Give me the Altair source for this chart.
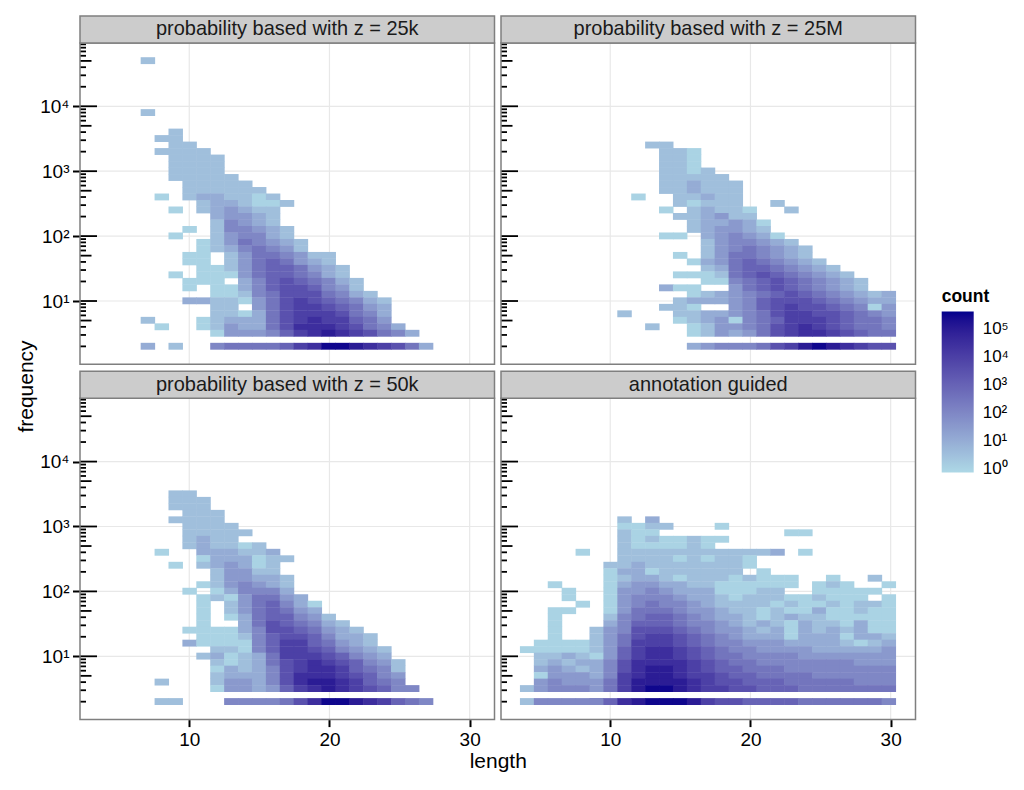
import altair as alt
import pandas as pd

# ---------------- data ----------------
PANEL_TITLES = [
    "probability based with z = 25k",
    "probability based with z = 25M",
    "probability based with z = 50k",
    "annotation guided",
]

# each row: (frequency bin index k, first length, levels for consecutive lengths)
# level char -> log10(count) = index/2 ; '.' = no cell
LEVEL_CHARS = "0123456789ab"

TL_ROWS = [
    (44, 7, "1"), (36, 7, "1"), (33, 9, "1"), (32, 8, "11"), (31, 9, "11"),
    (30, 8, "1111"), (29, 9, "1111"), (28, 9, "1111"), (27, 9, "1111"),
    (26, 9, "11111"), (25, 10, "11111"), (24, 10, "111111"),
    (23, 8, "0.1221101"), (22, 11, "1221001"), (21, 9, "0.123211"),
    (20, 12, "23321"), (19, 12, "14321"), (18, 10, "0.144321"),
    (17, 9, "0..134421"), (16, 11, "01354321"), (15, 11, "01245431"),
    (14, 10, "00.13554311"), (13, 10, "00.13565321"), (12, 11, "00135665321"),
    (11, 9, "0.00035665421"), (10, 10, "000.246765421"), (9, 10, "0.00246776431"),
    (8, 12, "001457775421"), (7, 10, "221103578765421"), (6, 12, "11.3578876532"),
    (5, 12, "1102578887542"), (4, 7, "1...01222578988653"),
    (3, 8, "0..013225799987542"), (2, 12, "03334689a987542"),
    (0, 7, "2.1..45555689bba98752"),
]

TR_ROWS = [
    (31, 13, "11"), (30, 14, "110"), (29, 14, "110"), (28, 14, "110"),
    (27, 14, "1101"), (26, 14, "11111"), (25, 14, "112111"), (24, 14, "112111"),
    (23, 12, "0..11211"), (22, 15, "10111..1"), (21, 14, "0.12110..1"),
    (20, 15, "112311"), (19, 16, "122320"), (18, 16, "123321"),
    (17, 14, "00.234320"), (16, 17, "1344321"), (15, 17, "13454321"),
    (14, 15, "0.13554321"), (13, 16, "0235654321"), (12, 17, "1256654321"),
    (11, 15, "0001567654321"), (10, 17, "004567654321"), (9, 14, "200..3567654321"),
    (8, 16, "012345676543212"), (7, 15, "1222346777654322"),
    (6, 14, "110..346787765403"), (5, 11, "1...1122345788776543"),
    (4, 15, "0123045688876554"), (3, 13, "1..013345789876554"),
    (2, 16, "013235789987655"), (0, 16, "23444578aba9877"),
]

BL_ROWS = [
    (32, 9, "11"), (31, 9, "111"), (30, 9, "111"), (29, 10, "111"),
    (28, 9, "1111"), (27, 10, "1111"), (26, 10, "11111"), (25, 10, "1211"),
    (24, 10, "121101"), (23, 8, "0..222112"), (22, 11, "0222011"),
    (21, 9, "0.123201"), (20, 12, "13311"), (19, 12, "133221"),
    (18, 11, "0134321"), (17, 10, "0.024442"), (16, 11, "01035532"),
    (15, 11, "0.1356420"), (14, 11, "0.1356532"), (13, 11, "0.02566431"),
    (12, 11, "0..25765421"), (11, 10, "0000247765321"), (10, 11, "0001467764221"),
    (9, 10, "20000468865321"), (8, 12, "1104688764321"), (7, 11, "12012588876432"),
    (6, 12, "10125789876431"), (5, 12, "02124789986541"), (4, 12, "12224799987643"),
    (3, 8, "1...1332479aa98654"), (2, 12, "03323689a987644"),
    (0, 8, "11...4444579bba98654"),
]

BR_ROWS = [
    (28, 11, "1.2"), (27, 11, "0011...0"), (26, 11, "100.........00"),
    (25, 11, "10100100"), (24, 11, "1000010"), (23, 8, "0..111111111112.0"),
    (22, 11, "1111010110"), (21, 10, "11211111110"), (20, 10, "0220111111.0"),
    (19, 10, "01221011101000..0..1"), (18, 6, "0...02332211000000.010..0"),
    (17, 7, "0..0334322200011..00000"), (16, 7, "0..0344432210111001000.0"),
    (15, 8, "0.034544321111010010110"), (14, 6, "00..035554332110100200100"),
    (13, 6, "0...145665432210121100000"), (12, 6, "0...246665443212102110200"),
    (11, 6, "0..1347776543321202121200"), (10, 6, "0..1357887654322202220221"),
    (9, 5, "00001358887654433322221012"), (8, 4, "000001368998765443333222223"),
    (7, 5, "11210368998765544443333333"), (6, 5, "12122479999876554444444333"),
    (5, 5, "23212479aa9876655544444444"), (4, 5, "03332489aa9887665555444444"),
    (3, 5, "3433358aaaa987766655555444"), (2, 4, "13444358abba988776665555555"),
    (0, 4, "14444469abbba87766665555554"),
]

# bin geometry of the 2-d histogram (length bins, log10-frequency bins)
LENGTH_BIN_ORIGIN = 3.56   # left edge of the length-4 bin
LENGTH_BIN_WIDTH = 0.992
LOGFREQ_BIN_ORIGIN = 0.25  # log10 lower edge of bin 0
LOGFREQ_BIN_WIDTH = 0.1

X_TICKS = [10, 20, 30]
Y_TICKS = [10, 100, 1000, 10000]
LEGEND_VALUES = [1, 10, 100, 1000, 10000, 100000]
LOGTICK_LONG = [10, 100, 1000, 10000]
LOGTICK_MID = [5, 50, 500, 5000, 50000]
LOGTICK_SHORT = [m * 10 ** e for e in range(5) for m in (2, 3, 4, 6, 7, 8, 9)]

# ---------------- layout / style ----------------
W, H = 414.5, 321.3        # one panel's plot area
COL_GAP = 6.5              # gap between the two columns
ROW_GAP = 34               # gap between rows (contains the lower strip)
STRIP_H = 27
FONT = "Liberation Sans"
SEAM_X = 0.04              # small overlap so neighbouring cells show no hairline seams
SEAM_Y = 0.006
GRID_COLOR = "#E8E8E8"
BORDER_COLOR = "#7F7F7F"

X_DOMAIN = [2.21, 31.77]
Y_DOMAIN = [10 ** 0.025, 10 ** 4.975]

Y_LABEL_EXPR = ("'10' + (datum.value == 10 ? '¹' : datum.value == 100 ? '²' : "
                "datum.value == 1000 ? '³' : '⁴')")
LEG_LABEL_EXPR = ("'10' + (datum.value < 5 ? '⁰' : datum.value < 50 ? '¹' : "
                  "datum.value < 500 ? '²' : datum.value < 5000 ? '³' : "
                  "datum.value < 50000 ? '⁴' : '⁵')")

cscale = alt.Scale(type="log", domain=[10 ** -0.14, 10 ** 5.64],
                   range=["#ADD8E6", "#00008B"], interpolate="lab")
LEGEND = alt.Legend(orient="none", legendX=2 * W + COL_GAP + 26.2, legendY=245,
                    title="count", titleFontSize=17.5, titleFontWeight="bold",
                    titleColor="black", titleFont=FONT, titlePadding=6,
                    labelFontSize=17, labelColor="black", labelFont=FONT,
                    gradientLength=161, gradientThickness=32, values=LEGEND_VALUES,
                    labelExpr=LEG_LABEL_EXPR, labelBaseline="middle", labelOffset=9,
                    gradientStrokeWidth=0, direction="vertical", padding=0)


def cells(rows):
    recs = []
    for k, l0, s in rows:
        for i, ch in enumerate(s):
            if ch == ".":
                continue
            L = l0 + i
            lvl = LEVEL_CHARS.index(ch)
            x0 = LENGTH_BIN_ORIGIN + (L - 4) * LENGTH_BIN_WIDTH
            recs.append({
                "length": L,
                "x0": x0,
                "x1": x0 + LENGTH_BIN_WIDTH + SEAM_X,
                "y0": 10 ** (LOGFREQ_BIN_ORIGIN + k * LOGFREQ_BIN_WIDTH),
                "y1": 10 ** (LOGFREQ_BIN_ORIGIN + (k + 1) * LOGFREQ_BIN_WIDTH + SEAM_Y),
                "count": 10 ** (lvl / 2),
            })
    return pd.DataFrame(recs)


def make_panel(rows, title, col, row, yaxis=None, xaxis=None):
    left = col * (W + COL_GAP)
    right = left + W
    top = row * (H + ROW_GAP)
    bottom = top + H
    xs = alt.Scale(domain=X_DOMAIN, range=[left, right], nice=False, zero=False)
    ys = alt.Scale(type="log", domain=Y_DOMAIN, range=[bottom, top], nice=False)

    vgrid = alt.Chart(pd.DataFrame({"g": X_TICKS})).mark_rule(
        color=GRID_COLOR, strokeWidth=1.2
    ).encode(x=alt.X("g:Q", scale=xs, axis=None), y=alt.value(top), y2=alt.value(bottom))
    hgrid = alt.Chart(pd.DataFrame({"g": Y_TICKS})).mark_rule(
        color=GRID_COLOR, strokeWidth=1.2
    ).encode(y=alt.Y("g:Q", scale=ys, axis=None), x=alt.value(left), x2=alt.value(right))

    heat = alt.Chart(cells(rows)).mark_rect().encode(
        x=alt.X("x0:Q", scale=xs, axis=xaxis),
        x2="x1:Q",
        y=alt.Y("y0:Q", scale=ys, axis=yaxis),
        y2="y1:Q",
        color=alt.Color("count:Q", scale=cscale, legend=LEGEND),
    )

    def logticks(vals, length):
        return alt.Chart(pd.DataFrame({"t": vals})).mark_rule(
            color="black", strokeWidth=1.8
        ).encode(
            y=alt.Y("t:Q", scale=ys, axis=None),
            x=alt.value(left), x2=alt.value(left + length),
        )

    border = alt.Chart(alt.Data(values=[{"t": title}])).mark_rect(
        fillOpacity=0, stroke=BORDER_COLOR, strokeWidth=1.5
    ).encode(x=alt.value(left), x2=alt.value(right), y=alt.value(top), y2=alt.value(bottom))
    strip_bg = alt.Chart(alt.Data(values=[{"t": title}])).mark_rect(
        fill="#CCCCCC", stroke=BORDER_COLOR, strokeWidth=1.5
    ).encode(x=alt.value(left), x2=alt.value(right),
             y=alt.value(top - STRIP_H), y2=alt.value(top))
    strip_txt = alt.Chart(alt.Data(values=[{"t": title}])).mark_text(
        fontSize=20, color="#1A1A1A", font=FONT, baseline="middle", align="center"
    ).encode(x=alt.value((left + right) / 2), y=alt.value(top - STRIP_H / 2), text="t:N")

    return [vgrid, hgrid, heat, logticks(LOGTICK_SHORT, 6), logticks(LOGTICK_MID, 11.5),
            logticks(LOGTICK_LONG, 17), border, strip_bg, strip_txt]


def y_axis(title=None):
    if title:
        extra = {"title": title, "titleX": -47.3, "titleY": 343, "titleAngle": 270,
                 "titleAlign": "center", "titleBaseline": "alphabetic",
                 "titleFontSize": 21, "titleFontWeight": "normal",
                 "titleColor": "black", "titleFont": FONT}
    else:
        extra = {"title": None}
    return alt.Axis(orient="left", values=Y_TICKS, labelExpr=Y_LABEL_EXPR,
                    labelFontSize=19, labelColor="black", labelFont=FONT,
                    tickColor="black", tickSize=7.5, tickWidth=2, labelPadding=3.5,
                    grid=False, domain=False, **extra)


def x_axis(title=None):
    if title:
        extra = {"title": title, "titleX": W + COL_GAP / 2, "titleY": 47.5,
                 "titleAlign": "center", "titleBaseline": "alphabetic",
                 "titleFontSize": 21, "titleFontWeight": "normal",
                 "titleColor": "black", "titleFont": FONT}
    else:
        extra = {"title": None}
    return alt.Axis(orient="bottom", values=X_TICKS, format="d", labelFontSize=19,
                    labelColor="black", labelFont=FONT, tickColor="black",
                    tickSize=7, tickWidth=2, labelPadding=4, grid=False, domain=False,
                    **extra)


layers = []
layers += make_panel(TL_ROWS, PANEL_TITLES[0], 0, 0, yaxis=y_axis("frequency"), xaxis=None)
layers += make_panel(TR_ROWS, PANEL_TITLES[1], 1, 0, yaxis=None, xaxis=None)
layers += make_panel(BL_ROWS, PANEL_TITLES[2], 0, 1, yaxis=y_axis(), xaxis=x_axis("length"))
layers += make_panel(BR_ROWS, PANEL_TITLES[3], 1, 1, yaxis=None, xaxis=x_axis())

# invisible anchor fixing the top-left corner of the drawing
anchor = alt.Chart(alt.Data(values=[{"a": 0}])).mark_rect(opacity=0).encode(
    x=alt.value(-71.3), x2=alt.value(-70.3), y=alt.value(-35), y2=alt.value(-34)
)
layers.append(anchor)

chart = alt.layer(*layers).resolve_scale(
    x="independent", y="independent"
).properties(
    width=2 * W + COL_GAP, height=2 * H + ROW_GAP, padding=0
).configure(
    font=FONT
).configure_view(
    stroke=None
)

chart.save("out.html", embed_options={"renderer": "svg", "actions": False})
